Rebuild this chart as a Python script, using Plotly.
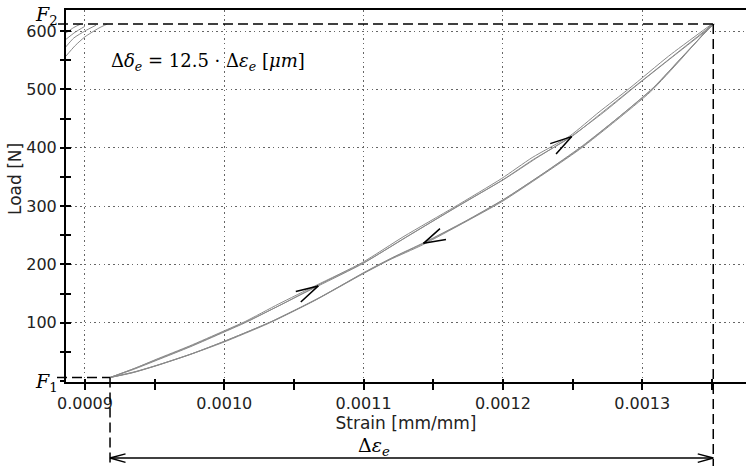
import plotly.graph_objects as go

# ---------------- data ----------------
# loading branch (upper curve), three cycles
strain_up_a = [0.000918, 0.000935, 0.000952, 0.000976, 0.001000, 0.001016, 0.001040, 0.0010675, 0.001100,
               0.001130, 0.001166, 0.001200, 0.001222, 0.0012494, 0.001270, 0.001292, 0.001320, 0.001351]
load_up_a = [6, 20, 36, 59, 84, 101, 130, 163, 202, 246, 297, 345, 380, 419, 458, 500, 553, 612]
strain_up_b = [0.000918, 0.000936, 0.000953, 0.000977, 0.001001, 0.001017, 0.001041, 0.001068, 0.001101,
               0.001131, 0.001167, 0.001201, 0.001224, 0.001250, 0.001272, 0.001294, 0.001322, 0.001352]
load_up_b = [6, 22, 38, 61, 86, 103, 131, 165, 204, 247, 299, 346, 382, 421, 460, 503, 556, 612]
strain_up_c = [0.000918, 0.000935, 0.000951, 0.000975, 0.000999, 0.001015, 0.001039, 0.001066, 0.001099,
               0.001129, 0.001165, 0.001199, 0.001221, 0.001248, 0.001269, 0.001291, 0.001319, 0.001350]
load_up_c = [6, 21, 37, 60, 85, 102, 132, 164, 203, 248, 298, 347, 383, 420, 461, 502, 557, 612]

# unloading branch (lower curve), three cycles
strain_dn_a = [0.001351, 0.001329, 0.001307, 0.001282, 0.001256, 0.001228, 0.001200, 0.001172, 0.001143,
               0.001120, 0.001100, 0.001066, 0.001033, 0.001000, 0.000976, 0.000952, 0.000935, 0.000918]
load_dn_a = [612, 556, 500, 450, 400, 354, 310, 272, 236, 210, 185, 140, 101, 68, 46, 27, 15, 6]
strain_dn_b = [0.001350, 0.001328, 0.001306, 0.001281, 0.001255, 0.001227, 0.001199, 0.001171, 0.001142,
               0.001119, 0.001099, 0.001065, 0.001032, 0.000999, 0.000975, 0.000951, 0.000934, 0.000918]
load_dn_b = [612, 552, 496, 446, 397, 351, 307, 270, 233, 208, 183, 138, 99, 66, 45, 26, 14, 6]
strain_dn_c = [0.001351, 0.001330, 0.001308, 0.001283, 0.001257, 0.001229, 0.001201, 0.001173, 0.001144,
               0.001121, 0.001101, 0.001067, 0.001034, 0.001001, 0.000977, 0.000953, 0.000936, 0.000918]
load_dn_c = [612, 559, 503, 452, 403, 356, 312, 274, 238, 212, 187, 141, 102, 69, 47, 28, 16, 6]

# initial loading traces at the top left corner
init_strain_1 = [0.000886, 0.000893, 0.000900, 0.000910, 0.000916]
init_load_1 = [556, 575, 590, 605, 612]
init_strain_2 = [0.000886, 0.000892, 0.000900, 0.000908]
init_load_2 = [572, 588, 600, 610]
init_strain_3 = [0.000886, 0.000893, 0.000900]
init_load_3 = [585, 598, 608]
init_strain_4 = [0.000886, 0.000892, 0.000897]
init_load_4 = [596, 606, 612]

x_tick_vals = [0.0009, 0.0010, 0.0011, 0.0012, 0.0013]
x_tick_text = ["0.0009", "0.0010", "0.0011", "0.0012", "0.0013"]
x_minor_vals = [0.00095, 0.00105, 0.00115, 0.00125, 0.00135]
y_tick_vals = [0, 100, 200, 300, 400, 500, 600]
y_tick_text = ["", "100", "200", "300", "400", "500", "600"]
y_minor_vals = [50, 150, 250, 350, 450, 550]

X_RANGE = [0.0008864, 0.0013745]
Y_RANGE = [-1.7, 636]

# ---------------- geometry helpers ----------------
W, H = 746, 466
ML, MR, MT, MB = 66, 0, 10, 84
PW, PH = W - ML - MR, H - MT - MB


def px_x(p):
    return (p - ML) / PW


def px_y(p):
    return (H - MB - p) / PH


def dx(v):
    return (v - X_RANGE[0]) / (X_RANGE[1] - X_RANGE[0])


def dy(v):
    return (v - Y_RANGE[0]) / (Y_RANGE[1] - Y_RANGE[0])


F1 = load_up_a[0]
F2 = load_up_a[-1]
eps_min = strain_up_a[0]
eps_max = strain_up_a[-1]

CURVE = "#8a8a8a"
fig = go.Figure()
for sx, ly in [(strain_up_a, load_up_a), (strain_up_b, load_up_b), (strain_up_c, load_up_c),
               (strain_dn_a, load_dn_a), (strain_dn_b, load_dn_b), (strain_dn_c, load_dn_c),
               (init_strain_1, init_load_1), (init_strain_2, init_load_2),
               (init_strain_3, init_load_3), (init_strain_4, init_load_4)]:
    fig.add_trace(go.Scatter(x=sx, y=ly, mode="lines", line=dict(color=CURVE, width=1, shape="spline", smoothing=0.6),
                             showlegend=False, hoverinfo="skip"))

# invisible trace to activate the overlay axes (inner tick marks)
fig.add_trace(go.Scatter(x=[strain_up_a[0]], y=[load_up_a[0]], mode="lines", xaxis="x2", yaxis="y2",
                         showlegend=False, hoverinfo="skip", line=dict(width=0)))

tickfont = dict(family="DejaVu Sans", size=16, color="#222222")
grid = dict(showgrid=True, gridcolor="#666666", gridwidth=1.3, griddash="1.5px,3.2px", automargin=False)

fig.update_layout(
    width=W, height=H,
    margin=dict(l=ML, r=MR, t=MT, b=MB, pad=0, autoexpand=False),
    paper_bgcolor="white", plot_bgcolor="white",
    font=dict(family="DejaVu Sans", color="#222222"),
    xaxis=dict(range=X_RANGE, tickmode="array", tickvals=x_tick_vals, ticktext=x_tick_text,
               ticks="outside", ticklen=6, tickwidth=1.5, tickcolor="black",
               minor=dict(tickmode="array", tickvals=x_minor_vals, ticks="outside", ticklen=6,
                          tickwidth=1.5, tickcolor="black", showgrid=False),
               showline=True, linecolor="black", linewidth=2, mirror=True, zeroline=False,
               tickfont=tickfont,
               title=dict(text="Strain [mm/mm]", font=dict(family="DejaVu Sans", size=17, color="#222222"),
                          standoff=5),
               **grid),
    yaxis=dict(range=Y_RANGE, tickmode="array", tickvals=y_tick_vals, ticktext=y_tick_text,
               ticks="outside", ticklen=4, tickwidth=1.5, tickcolor="black",
               minor=dict(tickmode="array", tickvals=y_minor_vals, ticks="outside", ticklen=4,
                          tickwidth=1.5, tickcolor="black", showgrid=False),
               showline=True, linecolor="black", linewidth=2, zeroline=False,
               tickfont=tickfont, **grid),
    xaxis2=dict(range=X_RANGE, overlaying="x", anchor="y", side="bottom", tickmode="array",
                tickvals=x_tick_vals, ticks="inside", ticklen=3, tickwidth=1.5, tickcolor="black",
                minor=dict(tickmode="array", tickvals=x_minor_vals, ticks="inside", ticklen=3,
                           tickwidth=1.5, tickcolor="black", showgrid=False),
                showticklabels=False, showgrid=False, showline=False, zeroline=False, automargin=False),
    yaxis2=dict(range=Y_RANGE, overlaying="y", anchor="x", side="left", tickmode="array",
                tickvals=y_tick_vals, ticks="inside", ticklen=5, tickwidth=1.5, tickcolor="black",
                minor=dict(tickmode="array", tickvals=y_minor_vals, ticks="inside", ticklen=5,
                           tickwidth=1.5, tickcolor="black", showgrid=False),
                showticklabels=False, showgrid=False, showline=False, zeroline=False, automargin=False),
)

DASH = dict(color="black", width=1.5, dash="10px,5px")
shapes = [
    # F2 level
    dict(type="line", xref="paper", yref="paper", x0=px_x(58), x1=dx(eps_max), y0=dy(F2), y1=dy(F2), line=DASH),
    # F1 level
    dict(type="line", xref="paper", yref="paper", x0=px_x(57), x1=dx(eps_min), y0=dy(F1), y1=dy(F1), line=DASH),
    # strain limits
    dict(type="line", xref="paper", yref="paper", x0=dx(eps_max), x1=dx(eps_max), y0=dy(F2), y1=px_y(470), line=DASH),
    dict(type="line", xref="paper", yref="paper", x0=dx(eps_min), x1=dx(eps_min), y0=dy(F1), y1=px_y(470), line=DASH),
    # delta epsilon dimension line
    dict(type="line", xref="paper", yref="paper", x0=dx(eps_min), x1=dx(eps_max), y0=px_y(458), y1=px_y(458),
         line=dict(color="black", width=1.5)),
]
fig.update_layout(shapes=shapes)

ann = []
ARM = dict(showarrow=True, arrowhead=0, arrowwidth=1.5, arrowcolor="black", text="", standoff=0,
           startstandoff=0)
# direction chevrons on the loop
for sx, ly, i, arms in [(strain_up_a, load_up_a, 7, [(-24, 6), (-19, 17.5)]),
                        (strain_up_a, load_up_a, 13, [(-23, 7.5), (-17, 19)]),
                        (strain_dn_a, load_dn_a, 8, [(18, -16), (24, -4)])]:
    for ax_, ay_ in arms:
        ann.append(dict(ARM, xref="x", yref="y", x=sx[i], y=ly[i], ax=ax_, ay=ay_))
# dimension line arrow heads
for xv, arms in [(eps_min, [(17, -4.5), (17, 4.8)]), (eps_max, [(-17, -4.5), (-17, 4.8)])]:
    for ax_, ay_ in arms:
        ann.append(dict(ARM, xref="paper", yref="paper", x=dx(xv), y=px_y(458), ax=ax_, ay=ay_))

MATH = dict(family="DejaVu Serif", size=18, color="black")
ann += [
    dict(xref="paper", yref="paper", x=px_x(109), y=px_y(62), xanchor="left", yanchor="middle", showarrow=False,
         text="Δ<i>δ</i><sub><i>e</i></sub> = 12.5 · Δ<i>ε</i><sub><i>e</i></sub> [<i>μm</i>]", font=MATH),
    dict(xref="paper", yref="paper", x=px_x(46), y=px_y(16), xanchor="center", yanchor="middle", showarrow=False,
         text="<i>F</i><sub>2</sub>", font=dict(MATH, size=19)),
    dict(xref="paper", yref="paper", x=px_x(46), y=px_y(382), xanchor="center", yanchor="middle", showarrow=False,
         text="<i>F</i><sub>1</sub>", font=dict(MATH, size=19)),
    dict(xref="paper", yref="paper", x=px_x(374), y=px_y(446), xanchor="center", yanchor="middle", showarrow=False,
         text="Δ<i>ε</i><sub><i>e</i></sub>", font=dict(MATH, size=19)),
    dict(xref="paper", yref="paper", x=px_x(15), y=px_y(179), xanchor="center", yanchor="middle", showarrow=False,
         text="Load [N]", textangle=-90, font=dict(family="DejaVu Sans", size=17, color="#222222")),
]
fig.update_layout(annotations=ann)

fig.write_html("out.html", config={"displayModeBar": False},
               post_script="document.body.style.margin='0';document.body.style.overflow='hidden';")
